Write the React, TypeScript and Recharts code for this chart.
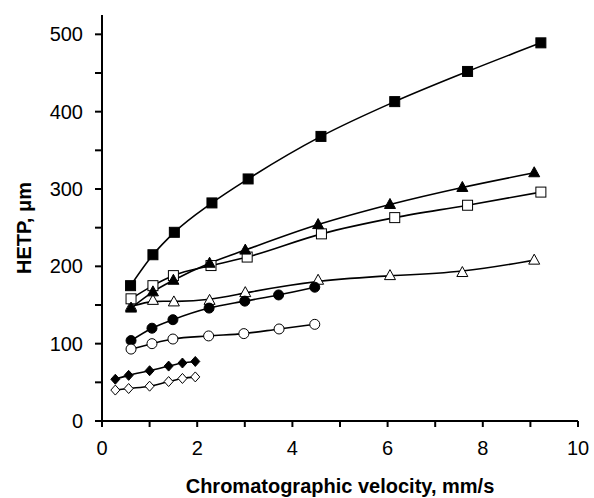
import React from 'react'
import { LineChart, Line, XAxis, YAxis } from 'recharts'

// HETP vs chromatographic velocity
const fsqX = [0.6, 1.07, 1.52, 2.31, 3.07, 4.6, 6.15, 7.68, 9.22]
const fsqY = [175, 215, 244, 282, 313, 368, 413, 452, 489]

const ftriX = [0.61, 1.07, 1.5, 2.26, 3.01, 4.54, 6.05, 7.57, 9.08]
const ftriY = [146, 167, 182, 204, 221, 254, 280, 302, 321]

const osqX = [0.61, 1.07, 1.5, 2.29, 3.05, 4.61, 6.15, 7.68, 9.22]
const osqY = [158, 175, 188, 201, 212, 242, 263, 279, 296]

const otriX = [0.61, 1.07, 1.51, 2.26, 3.01, 4.54, 6.05, 7.57, 9.08]
const otriY = [148, 156, 154, 156, 166, 182, 188, 192, 208]

const fcirX = [0.61, 1.05, 1.49, 2.25, 3.0, 3.71, 4.47]
const fcirY = [104, 120, 131, 146, 155, 163, 173]

const ocirX = [0.61, 1.05, 1.49, 2.24, 2.98, 3.72, 4.47]
const ocirY = [93, 100, 106, 110, 113, 119, 125]

const fdiaX = [0.28, 0.56, 1.0, 1.4, 1.69, 1.96]
const fdiaY = [54, 59, 65, 71, 75, 77]

const odiaX = [0.28, 0.56, 1.0, 1.4, 1.69, 1.96]
const odiaY = [40, 42, 45, 51, 55, 57]

const xTicks = [0, 1, 2, 3, 4, 5, 6, 7, 8, 9, 10]
const yTicks = [0, 50, 100, 150, 200, 250, 300, 350, 400, 450, 500]

const zip = (xs: number[], ys: number[]) => xs.map((x, i) => ({ x, y: ys[i] }))

const FONT = '"Liberation Sans", Arial, sans-serif'

function marker(kind: string, filled: boolean) {
  const fill = filled ? '#000' : '#fff'
  return (p: any) => {
    const { cx, cy, index } = p
    if (cx == null || cy == null) return <g key={index} />
    const common = { fill, stroke: '#000', strokeWidth: 1 }
    if (kind === 'square') {
      return <rect key={index} x={cx - 5} y={cy - 5} width={10} height={10} {...common} />
    }
    if (kind === 'triangle') {
      return <path key={index} d={`M${cx},${cy - 6} L${cx + 5.5},${cy + 4} L${cx - 5.5},${cy + 4} Z`} {...common} />
    }
    if (kind === 'circle') {
      return <circle key={index} cx={cx} cy={cy} r={5} {...common} />
    }
    return <path key={index} d={`M${cx},${cy - 5} L${cx + 4.5},${cy} L${cx},${cy + 5} L${cx - 4.5},${cy} Z`} {...common} />
  }
}

// open triangles first so the filled triangle at the left end sits on top
const series = [
  { id: 'otri', data: zip(otriX, otriY), kind: 'triangle', filled: false, curve: 'basis' },
  { id: 'fsq', data: zip(fsqX, fsqY), kind: 'square', filled: true, curve: 'monotone' },
  { id: 'osq', data: zip(osqX, osqY), kind: 'square', filled: false, curve: 'monotone' },
  { id: 'ftri', data: zip(ftriX, ftriY), kind: 'triangle', filled: true, curve: 'monotone' },
  { id: 'fcir', data: zip(fcirX, fcirY), kind: 'circle', filled: true, curve: 'monotone' },
  { id: 'ocir', data: zip(ocirX, ocirY), kind: 'circle', filled: false, curve: 'monotone' },
  { id: 'fdia', data: zip(fdiaX, fdiaY), kind: 'diamond', filled: true, curve: 'monotone' },
  { id: 'odia', data: zip(odiaX, odiaY), kind: 'diamond', filled: false, curve: 'monotone' },
]

const tickStyle = { fill: '#000', fontSize: 20, fontFamily: FONT }

export default function App() {
  return (
    <div style={{ position: 'absolute', left: 0, top: 0, width: 594, height: 498, background: '#fff' }}>
      <LineChart width={594} height={498} margin={{ top: 15, right: 16, bottom: 0, left: 0 }}>
        <XAxis
          type="number"
          dataKey="x"
          domain={[0, 10]}
          ticks={xTicks}
          interval={0}
          tickFormatter={(v: number) => (v % 2 === 0 ? String(v) : '')}
          height={77}
          tickSize={6}
          tickMargin={14}
          axisLine={{ stroke: '#000', strokeWidth: 2 }}
          tickLine={{ stroke: '#000', strokeWidth: 2 }}
          tick={tickStyle}
          allowDuplicatedCategory={false}
          label={{
            value: 'Chromatographic velocity, mm/s',
            position: 'insideBottom',
            offset: 5,
            style: { fill: '#000', fontSize: 20, fontWeight: 'bold', fontFamily: FONT },
          }}
        />
        <YAxis
          type="number"
          dataKey="y"
          domain={[0, 525]}
          ticks={yTicks}
          interval={0}
          tickFormatter={(v: number) => (v % 100 === 0 ? String(v) : '')}
          width={102}
          tickSize={7}
          tickMargin={12}
          axisLine={{ stroke: '#000', strokeWidth: 2 }}
          tickLine={{ stroke: '#000', strokeWidth: 2 }}
          tick={tickStyle}
          label={{
            value: 'HETP, μm',
            content: (props: any) => {
              const vb = props.viewBox
              const cx = 24
              const cy = vb.y + vb.height / 2 + 10
              return (
                <text
                  x={cx}
                  y={cy}
                  transform={`rotate(-90 ${cx} ${cy})`}
                  textAnchor="middle"
                  dominantBaseline="central"
                  style={{ fill: '#000', fontSize: 20, fontWeight: 'bold', fontFamily: FONT }}
                >
                  HETP, μm
                </text>
              )
            },
          }}
        />
        {series.map((s) => (
          <Line
            key={s.id}
            data={s.data}
            dataKey="y"
            type={s.curve as any}
            stroke="#000"
            strokeWidth={1.6}
            dot={marker(s.kind, s.filled)}
            activeDot={false}
            isAnimationActive={false}
          />
        ))}
      </LineChart>
    </div>
  )
}
